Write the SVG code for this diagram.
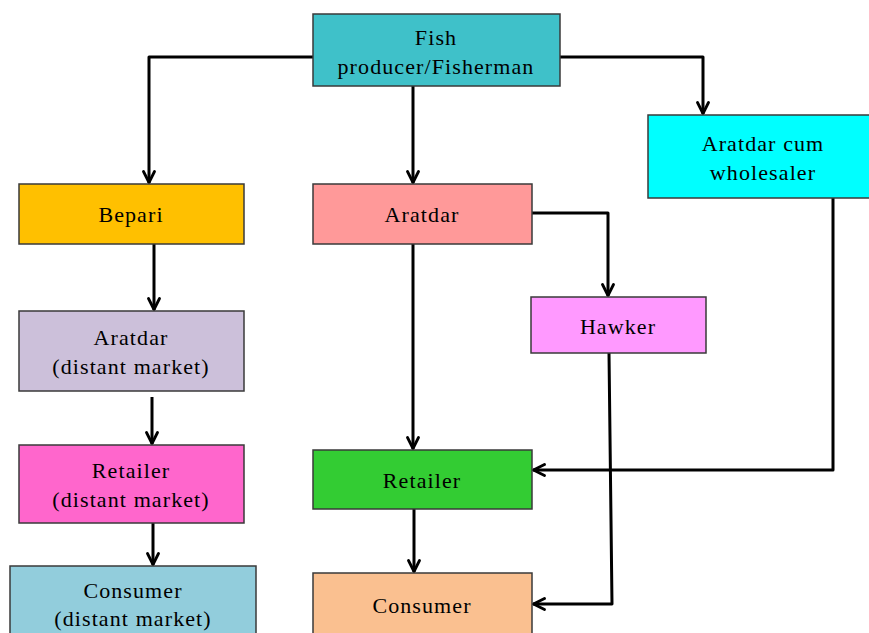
<svg xmlns="http://www.w3.org/2000/svg" width="869" height="633" viewBox="0 0 869 633">
<defs>
<marker id="arr" viewBox="0 0 14 14" refX="13" refY="7" markerWidth="14" markerHeight="14" markerUnits="userSpaceOnUse" orient="auto">
<path d="M1.5,1.5 L12.5,7 L1.5,12.5" fill="none" stroke="#000" stroke-width="2.8" stroke-linecap="round" stroke-linejoin="round"/>
</marker>
<style>
.box{stroke:#3a3a3a;stroke-width:1.5}
.t{font-family:"Liberation Serif","Times New Roman",serif;font-size:22px;letter-spacing:1.1px;fill:#000;text-anchor:middle}
.c{fill:none;stroke:#000;stroke-width:3;marker-end:url(#arr);stroke-linejoin:round}
</style>
</defs>
<rect width="869" height="633" fill="#fff"/>
<g id="connectors">
<path class="c" d="M313,57 H149 V183"/>
<path class="c" d="M413,86 V183"/>
<path class="c" d="M560,57 H703 V114"/>
<path class="c" d="M154,244 V310"/>
<path class="c" d="M152,397 V444"/>
<path class="c" d="M153,523 V565"/>
<path class="c" d="M413,244 V449"/>
<path class="c" d="M532,213 H608 V296"/>
<path class="c" d="M609,353 L612,604 H533"/>
<path class="c" d="M833,198 V470 H533"/>
<path class="c" d="M414,509 V572"/>
</g>
<g id="fish">
<rect class="box" x="313" y="14" width="247" height="72" fill="#3FC1C9"/>
<text class="t" x="436" y="45">Fish</text>
<text class="t" x="436" y="74">producer/Fisherman</text>
</g>
<g id="bepari">
<rect class="box" x="19" y="184" width="225" height="60" fill="#FFC000"/>
<text class="t" x="131" y="222">Bepari</text>
</g>
<g id="aratdar-distant">
<rect class="box" x="19" y="311" width="225" height="80" fill="#CCC0DA"/>
<text class="t" x="131" y="345">Aratdar</text>
<text class="t" x="131" y="374">(distant market)</text>
</g>
<g id="retailer-distant">
<rect class="box" x="19" y="445" width="225" height="78" fill="#FF66CC"/>
<text class="t" x="131" y="478">Retailer</text>
<text class="t" x="131" y="507">(distant market)</text>
</g>
<g id="consumer-distant">
<rect class="box" x="10" y="566" width="246" height="72" fill="#92CDDC"/>
<text class="t" x="133" y="598">Consumer</text>
<text class="t" x="133" y="626">(distant market)</text>
</g>
<g id="aratdar">
<rect class="box" x="313" y="184" width="219" height="60" fill="#FF9999"/>
<text class="t" x="422" y="222">Aratdar</text>
</g>
<g id="aratdar-wholesaler">
<rect class="box" x="648" y="115" width="223" height="83" fill="#00FFFF"/>
<text class="t" x="763" y="151">Aratdar cum</text>
<text class="t" x="763" y="180">wholesaler</text>
</g>
<g id="hawker">
<rect class="box" x="531" y="297" width="175" height="56" fill="#FF99FF"/>
<text class="t" x="618" y="334">Hawker</text>
</g>
<g id="retailer">
<rect class="box" x="313" y="450" width="219" height="59" fill="#33CC33"/>
<text class="t" x="422" y="488">Retailer</text>
</g>
<g id="consumer">
<rect class="box" x="313" y="573" width="219" height="65" fill="#FAC090"/>
<text class="t" x="422" y="613">Consumer</text>
</g>
</svg>
